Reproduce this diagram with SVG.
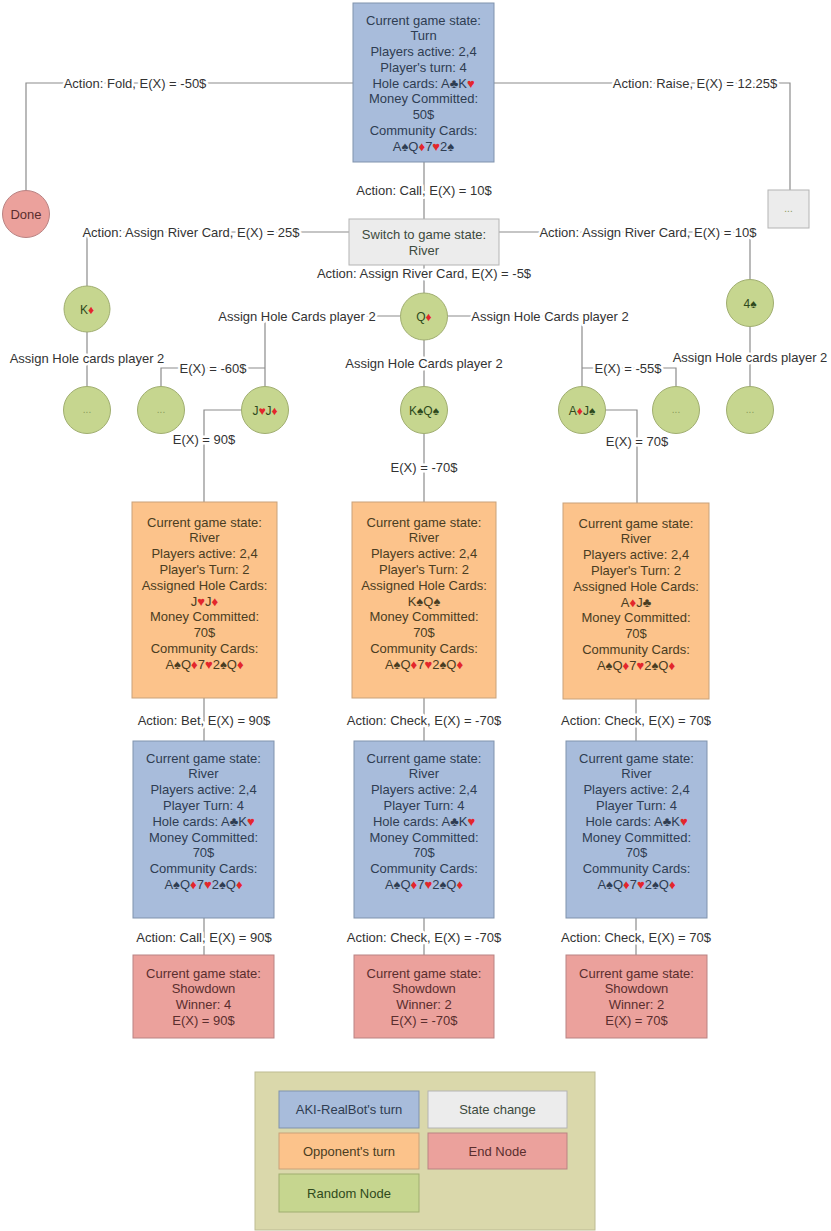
<svg xmlns="http://www.w3.org/2000/svg" width="831" height="1231" viewBox="0 0 831 1231">
<style>
text{font-family:"Liberation Sans",Arial,sans-serif;font-size:13px;text-anchor:middle;fill:#333}
.conn{fill:none;stroke:#8c8c8c;stroke-width:1.2}
.lbl{paint-order:stroke;stroke:#fff;stroke-width:5px;stroke-linejoin:round}
.r{fill:#e3262b}
.blue{fill:#a8bcdb;stroke:#8093ad;stroke-width:1}
.orange{fill:#fcc38b;stroke:#c9a27a;stroke-width:1}
.red{fill:#eba19c;stroke:#b98383;stroke-width:1}
.gray{fill:#ececec;stroke:#b4b4b4;stroke-width:1}
.green{fill:#c6d68f;stroke:#a0ae70;stroke-width:1}
.tb{fill:#2f3d52}
.to{fill:#4a3d22}
.tr{fill:#5a2e2e}
.tg{fill:#2f4a1c}
.tgr{fill:#3d4a3d}
.dots{font-size:10px;fill:#8a9a5a}
.cs{font-size:12px}
</style>

<g id="connectors">
  <path class="conn" d="M353,83 H26 V190.5"/>
  <path class="conn" d="M494,83 H790 V190"/>
  <path class="conn" d="M424,162 V219"/>
  <path class="conn" d="M349,232 H87 V286"/>
  <path class="conn" d="M499,232 H750 V279.5"/>
  <path class="conn" d="M424,265 V293"/>
  <path class="conn" d="M87,332 V387"/>
  <path class="conn" d="M750,326.5 V387"/>
  <path class="conn" d="M401,316 H265 V386.5"/>
  <path class="conn" d="M265,368 H161 V386.5"/>
  <path class="conn" d="M241.5,410 H204 V502"/>
  <path class="conn" d="M447,316 H582 V386.5"/>
  <path class="conn" d="M582,368 H676 V386.5"/>
  <path class="conn" d="M605.5,410 H637 V503"/>
  <path class="conn" d="M424,340 V386.5"/>
  <path class="conn" d="M424,433.5 V502"/>
  <path class="conn" d="M204,698 V741"/>
  <path class="conn" d="M424,698 V741"/>
  <path class="conn" d="M636,699 V741"/>
  <path class="conn" d="M204,918 V955"/>
  <path class="conn" d="M424,918 V955"/>
  <path class="conn" d="M636,918 V955"/>

  <text class="lbl" x="135" y="87.5">Action: Fold, E(X) = -50$</text>
  <text class="lbl" x="695" y="87.5">Action: Raise, E(X) = 12.25$</text>
  <text class="lbl" x="424" y="194.5">Action: Call, E(X) = 10$</text>
  <text class="lbl" x="191" y="236.5">Action: Assign River Card, E(X) = 25$</text>
  <text class="lbl" x="648" y="236.5">Action: Assign River Card, E(X) = 10$</text>
  <text class="lbl" x="424" y="277.5">Action: Assign River Card, E(X) = -5$</text>
  <text class="lbl" x="87" y="362.5">Assign Hole cards player 2</text>
  <text class="lbl" x="750" y="361.5">Assign Hole cards player 2</text>
  <text class="lbl" x="297" y="320.5">Assign Hole Cards player 2</text>
  <text class="lbl" x="550" y="320.5">Assign Hole Cards player 2</text>
  <text class="lbl" x="424" y="367.5">Assign Hole Cards player 2</text>
  <text class="lbl" x="213" y="372.5">E(X) = -60$</text>
  <text class="lbl" x="628" y="372.5">E(X) = -55$</text>
  <text class="lbl" x="204" y="443.5">E(X) = 90$</text>
  <text class="lbl" x="424" y="471.5">E(X) = -70$</text>
  <text class="lbl" x="637" y="445.5">E(X) = 70$</text>
  <text class="lbl" x="204" y="724.5">Action: Bet, E(X) = 90$</text>
  <text class="lbl" x="424" y="724.5">Action: Check, E(X) = -70$</text>
  <text class="lbl" x="636" y="724.5">Action: Check, E(X) = 70$</text>
  <text class="lbl" x="204" y="941.5">Action: Call, E(X) = 90$</text>
  <text class="lbl" x="424" y="941.5">Action: Check, E(X) = -70$</text>
  <text class="lbl" x="636" y="941.5">Action: Check, E(X) = 70$</text>
</g>

<g id="node-turn">
  <rect class="blue" x="353" y="3" width="141" height="159"/>
  <text class="tb" x="423.5" y="24.5">Current game state:<tspan x="423.5" dy="15.75">Turn</tspan><tspan x="423.5" dy="15.75">Players active: 2,4</tspan><tspan x="423.5" dy="15.75">Player's turn: 4</tspan><tspan x="423.5" dy="15.75">Hole cards: A♣K<tspan class="r">♥</tspan></tspan><tspan x="423.5" dy="15.75">Money Committed:</tspan><tspan x="423.5" dy="15.75">50$</tspan><tspan x="423.5" dy="15.75">Community Cards:</tspan><tspan x="423.5" dy="15.75">A♠Q<tspan class="r">♦</tspan>7<tspan class="r">♥</tspan>2♠</tspan></text>
</g>

<g id="node-done">
  <circle class="red" cx="26" cy="214" r="23.5"/>
  <text class="tr" x="26" y="218.5">Done</text>
</g>

<g id="node-raise-more">
  <rect class="gray" x="768" y="190" width="41" height="38"/>
  <text class="dots" x="788.5" y="212">...</text>
</g>

<g id="node-switch">
  <rect class="gray" x="349" y="219" width="150" height="46"/>
  <text class="tgr" x="424" y="239">Switch to game state:<tspan x="424" dy="15.5">River</tspan></text>
</g>

<g id="node-kd">
  <circle class="green" cx="87" cy="309" r="23"/>
  <text class="tg cs" x="87" y="313.5">K<tspan class="r">♦</tspan></text>
</g>
<g id="node-kd-more">
  <circle class="green" cx="87" cy="410" r="23.5"/>
  <text class="dots" x="87" y="413">...</text>
</g>

<g id="node-qd">
  <circle class="green" cx="424" cy="316.5" r="23.5"/>
  <text class="tg cs" x="424" y="321">Q<tspan class="r">♦</tspan></text>
</g>

<g id="node-4s">
  <circle class="green" cx="750" cy="303" r="23.5"/>
  <text class="tg cs" x="750" y="307.5">4♠</text>
</g>
<g id="node-4s-more">
  <circle class="green" cx="750" cy="410" r="23.5"/>
  <text class="dots" x="750" y="413">...</text>
</g>

<g id="node-left-more">
  <circle class="green" cx="161" cy="410" r="23.5"/>
  <text class="dots" x="161" y="413">...</text>
</g>
<g id="node-jj">
  <circle class="green" cx="265" cy="410" r="23.5"/>
  <text class="tg cs" x="265" y="414.5">J<tspan class="r">♥</tspan>J<tspan class="r">♦</tspan></text>
</g>
<g id="node-kq">
  <circle class="green" cx="424" cy="410" r="23.5"/>
  <text class="tg cs" x="424" y="414.5">K♠Q♠</text>
</g>
<g id="node-aj">
  <circle class="green" cx="582" cy="410" r="23.5"/>
  <text class="tg cs" x="582" y="414.5">A<tspan class="r">♦</tspan>J♠</text>
</g>
<g id="node-right-more">
  <circle class="green" cx="676" cy="410" r="23.5"/>
  <text class="dots" x="676" y="413">...</text>
</g>

<g id="node-opp-left">
  <rect class="orange" x="132" y="502" width="145" height="196"/>
  <text class="to" x="204.5" y="526.5">Current game state:<tspan x="204.5" dy="15.8">River</tspan><tspan x="204.5" dy="15.8">Players active: 2,4</tspan><tspan x="204.5" dy="15.8">Player's Turn: 2</tspan><tspan x="204.5" dy="15.8">Assigned Hole Cards:</tspan><tspan x="204.5" dy="15.8">J<tspan class="r">♥</tspan>J<tspan class="r">♦</tspan></tspan><tspan x="204.5" dy="15.8">Money Committed:</tspan><tspan x="204.5" dy="15.8">70$</tspan><tspan x="204.5" dy="15.8">Community Cards:</tspan><tspan x="204.5" dy="15.8">A♠Q<tspan class="r">♦</tspan>7<tspan class="r">♥</tspan>2♠Q<tspan class="r">♦</tspan></tspan></text>
</g>
<g id="node-opp-mid">
  <rect class="orange" x="352" y="502" width="144" height="196"/>
  <text class="to" x="424" y="526.5">Current game state:<tspan x="424" dy="15.8">River</tspan><tspan x="424" dy="15.8">Players active: 2,4</tspan><tspan x="424" dy="15.8">Player's Turn: 2</tspan><tspan x="424" dy="15.8">Assigned Hole Cards:</tspan><tspan x="424" dy="15.8">K♠Q♠</tspan><tspan x="424" dy="15.8">Money Committed:</tspan><tspan x="424" dy="15.8">70$</tspan><tspan x="424" dy="15.8">Community Cards:</tspan><tspan x="424" dy="15.8">A♠Q<tspan class="r">♦</tspan>7<tspan class="r">♥</tspan>2♠Q<tspan class="r">♦</tspan></tspan></text>
</g>
<g id="node-opp-right">
  <rect class="orange" x="563" y="503" width="146" height="196"/>
  <text class="to" x="636" y="527.5">Current game state:<tspan x="636" dy="15.8">River</tspan><tspan x="636" dy="15.8">Players active: 2,4</tspan><tspan x="636" dy="15.8">Player's Turn: 2</tspan><tspan x="636" dy="15.8">Assigned Hole Cards:</tspan><tspan x="636" dy="15.8">A<tspan class="r">♦</tspan>J♣</tspan><tspan x="636" dy="15.8">Money Committed:</tspan><tspan x="636" dy="15.8">70$</tspan><tspan x="636" dy="15.8">Community Cards:</tspan><tspan x="636" dy="15.8">A♠Q<tspan class="r">♦</tspan>7<tspan class="r">♥</tspan>2♠Q<tspan class="r">♦</tspan></tspan></text>
</g>

<g id="node-bot-left">
  <rect class="blue" x="133" y="741" width="141" height="177"/>
  <text class="tb" x="203.5" y="762.5">Current game state:<tspan x="203.5" dy="15.8">River</tspan><tspan x="203.5" dy="15.8">Players active: 2,4</tspan><tspan x="203.5" dy="15.8">Player Turn: 4</tspan><tspan x="203.5" dy="15.8">Hole cards: A♣K<tspan class="r">♥</tspan></tspan><tspan x="203.5" dy="15.8">Money Committed:</tspan><tspan x="203.5" dy="15.8">70$</tspan><tspan x="203.5" dy="15.8">Community Cards:</tspan><tspan x="203.5" dy="15.8">A♠Q<tspan class="r">♦</tspan>7<tspan class="r">♥</tspan>2♠Q<tspan class="r">♦</tspan></tspan></text>
</g>
<g id="node-bot-mid">
  <rect class="blue" x="354" y="741" width="140" height="177"/>
  <text class="tb" x="424" y="762.5">Current game state:<tspan x="424" dy="15.8">River</tspan><tspan x="424" dy="15.8">Players active: 2,4</tspan><tspan x="424" dy="15.8">Player Turn: 4</tspan><tspan x="424" dy="15.8">Hole cards: A♣K<tspan class="r">♥</tspan></tspan><tspan x="424" dy="15.8">Money Committed:</tspan><tspan x="424" dy="15.8">70$</tspan><tspan x="424" dy="15.8">Community Cards:</tspan><tspan x="424" dy="15.8">A♠Q<tspan class="r">♦</tspan>7<tspan class="r">♥</tspan>2♠Q<tspan class="r">♦</tspan></tspan></text>
</g>
<g id="node-bot-right">
  <rect class="blue" x="566" y="741" width="141" height="177"/>
  <text class="tb" x="636.5" y="762.5">Current game state:<tspan x="636.5" dy="15.8">River</tspan><tspan x="636.5" dy="15.8">Players active: 2,4</tspan><tspan x="636.5" dy="15.8">Player Turn: 4</tspan><tspan x="636.5" dy="15.8">Hole cards: A♣K<tspan class="r">♥</tspan></tspan><tspan x="636.5" dy="15.8">Money Committed:</tspan><tspan x="636.5" dy="15.8">70$</tspan><tspan x="636.5" dy="15.8">Community Cards:</tspan><tspan x="636.5" dy="15.8">A♠Q<tspan class="r">♦</tspan>7<tspan class="r">♥</tspan>2♠Q<tspan class="r">♦</tspan></tspan></text>
</g>

<g id="node-end-left">
  <rect class="red" x="133" y="955" width="141" height="83"/>
  <text class="tr" x="203.5" y="977.5">Current game state:<tspan x="203.5" dy="15.8">Showdown</tspan><tspan x="203.5" dy="15.8">Winner: 4</tspan><tspan x="203.5" dy="15.8">E(X) = 90$</tspan></text>
</g>
<g id="node-end-mid">
  <rect class="red" x="354" y="955" width="140" height="83"/>
  <text class="tr" x="424" y="977.5">Current game state:<tspan x="424" dy="15.8">Showdown</tspan><tspan x="424" dy="15.8">Winner: 2</tspan><tspan x="424" dy="15.8">E(X) = -70$</tspan></text>
</g>
<g id="node-end-right">
  <rect class="red" x="566" y="955" width="141" height="83"/>
  <text class="tr" x="636.5" y="977.5">Current game state:<tspan x="636.5" dy="15.8">Showdown</tspan><tspan x="636.5" dy="15.8">Winner: 2</tspan><tspan x="636.5" dy="15.8">E(X) = 70$</tspan></text>
</g>

<g id="legend">
  <rect x="255" y="1072" width="340" height="158" fill="#dad8ab" stroke="#bdbb92" stroke-width="1"/>
  <rect class="blue" x="279" y="1091" width="140" height="37"/>
  <text class="tb" x="349" y="1113.5">AKI-RealBot's turn</text>
  <rect class="gray" x="428" y="1091" width="139" height="37"/>
  <text class="tgr" x="497.5" y="1113.5">State change</text>
  <rect class="orange" x="279" y="1133" width="140" height="36"/>
  <text class="to" x="349" y="1155.5">Opponent's turn</text>
  <rect class="red" x="428" y="1133" width="139" height="36"/>
  <text class="tr" x="497.5" y="1155.5">End Node</text>
  <rect class="green" x="279" y="1174" width="140" height="38"/>
  <text class="tg" x="349" y="1197.5">Random Node</text>
</g>
</svg>
